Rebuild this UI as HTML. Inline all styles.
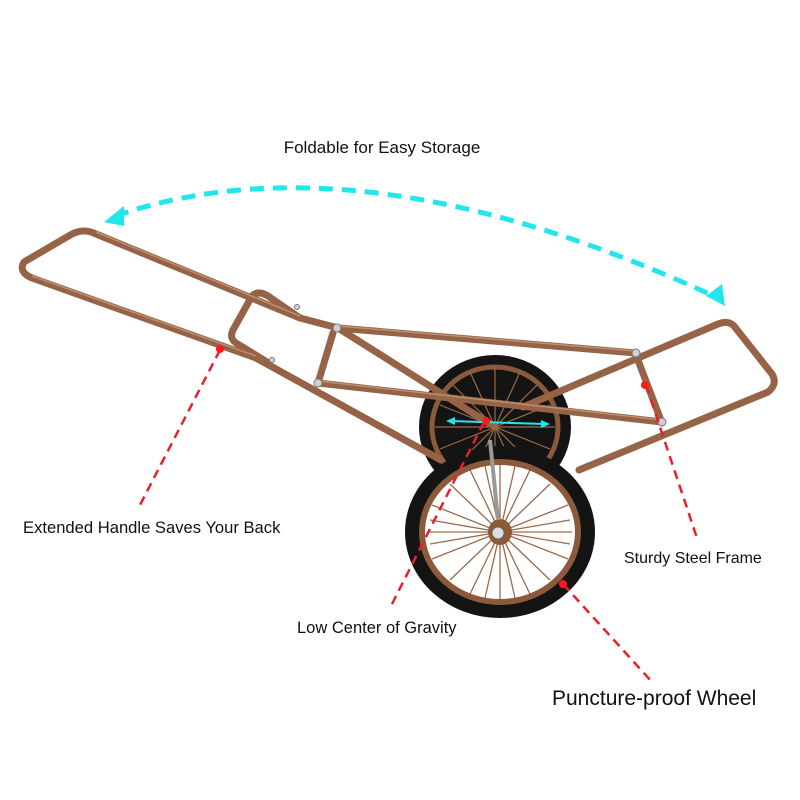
<!DOCTYPE html>
<html><head><meta charset="utf-8"><style>
html,body{margin:0;padding:0;background:#fff;}
svg{display:block}
text{font-family:"Liberation Sans",sans-serif;fill:#111}
</style></head><body>
<svg width="800" height="800" viewBox="0 0 800 800" xmlns="http://www.w3.org/2000/svg">
<rect width="800" height="800" fill="#fff"/>
<text x="382" y="153" font-size="17" text-anchor="middle">Foldable for Easy Storage</text>
<!-- cyan arc -->
<path d="M115,216 Q360,132 718,298" fill="none" stroke="#22e6ee" stroke-width="5" stroke-dasharray="14,9"/>
<polygon points="104,222 124,206 124,226" fill="#22e6ee"/>
<polygon points="725,306 706,296 722,284" fill="#22e6ee"/>

<!-- back wheel -->
<ellipse cx="495" cy="427" rx="76" ry="72" fill="#141414"/>
<ellipse cx="495" cy="427" rx="63" ry="60" fill="none" stroke="#8a5a3a" stroke-width="5"/>
<g stroke="#9a6a4a" stroke-width="1.2">
<line x1="495" y1="367" x2="495" y2="487"/><line x1="435" y1="427" x2="555" y2="427"/>
<line x1="453" y1="385" x2="537" y2="469"/><line x1="537" y1="385" x2="453" y2="469"/>
<line x1="470" y1="372" x2="520" y2="482"/><line x1="520" y1="372" x2="470" y2="482"/>
<line x1="440" y1="405" x2="550" y2="449"/><line x1="550" y1="405" x2="440" y2="449"/>
</g>

<!-- frame tubes -->
<g fill="none" stroke="#966346" stroke-width="7" stroke-linecap="round" stroke-linejoin="round">
<path d="M441,460 L256,358 L32,278 Q18,272 24,262 L72,234 Q84,228 96,234 L300,318 L338,328 L490,424"/>
<path d="M267,362 L236,343 Q229,338 233,330 L252,296 Q258,290 268,296 L300,318"/>
<path d="M338,328 L636,353"/>
<path d="M333,333 L318,383"/>
<path d="M318,383 L662,422"/>
<path d="M636,355 L662,423"/>
<path d="M523,407 L718,324 Q728,320 734,326 L772,374 Q778,384 768,392 L579,470"/>
</g>
<g fill="none" stroke="#c49a7a" stroke-width="1.5" opacity="0.8">
<path d="M256,356 L32,276"/><path d="M96,232 L300,316"/><path d="M338,326 L636,351"/><path d="M318,381 L662,420"/>
</g>
<g fill="#d0d0d0" stroke="#777" stroke-width="1">
<circle cx="337" cy="328" r="4"/><circle cx="318" cy="383" r="4"/><circle cx="636" cy="353" r="4"/><circle cx="662" cy="422" r="4"/>
<circle cx="297" cy="307" r="2.5"/><circle cx="272" cy="360" r="2.5"/>
</g>

<!-- front wheel -->
<ellipse cx="500" cy="532" rx="95" ry="86" fill="#141414"/>
<ellipse cx="500" cy="532" rx="80" ry="72" fill="#fff"/>
<ellipse cx="500" cy="532" rx="78" ry="70" fill="none" stroke="#8a5a3a" stroke-width="6"/>
<g stroke="#9a6a4a" stroke-width="1.3">
<line x1="500" y1="465" x2="500" y2="599"/><line x1="428" y1="532" x2="572" y2="532"/>
<line x1="450" y1="484" x2="550" y2="580"/><line x1="550" y1="484" x2="450" y2="580"/>
<line x1="470" y1="470" x2="530" y2="594"/><line x1="530" y1="470" x2="470" y2="594"/>
<line x1="432" y1="505" x2="568" y2="559"/><line x1="568" y1="505" x2="432" y2="559"/>
<line x1="485" y1="466" x2="515" y2="598"/><line x1="515" y1="466" x2="485" y2="598"/>
<line x1="430" y1="520" x2="570" y2="544"/><line x1="570" y1="520" x2="430" y2="544"/>
</g>
<ellipse cx="500" cy="532" rx="12" ry="13" fill="#8d5a38"/>
<circle cx="498" cy="533" r="6" fill="#ddd" stroke="#666"/>
<line x1="490" y1="440" x2="498" y2="520" stroke="#999" stroke-width="4"/>

<!-- cyan small arrow -->
<line x1="450" y1="421" x2="545" y2="424" stroke="#22e6ee" stroke-width="2"/>
<polygon points="446,421 455,417 455,425" fill="#22e6ee"/>
<polygon points="550,424 541,420 541,428" fill="#22e6ee"/>

<!-- red dashed lines -->
<g stroke="#e8202a" stroke-width="2.5" stroke-dasharray="9,6" fill="none">
<line x1="220" y1="350" x2="140" y2="505"/>
<line x1="484" y1="422" x2="390" y2="608"/>
<line x1="646" y1="385" x2="697" y2="538"/>
<line x1="563" y1="584" x2="652" y2="682"/>
</g>
<g fill="#ff1a1a">
<circle cx="220" cy="349" r="4"/><circle cx="486" cy="421" r="4"/><circle cx="645" cy="385" r="4"/><circle cx="563" cy="584" r="4"/>
</g>

<text x="23" y="533" font-size="16.6">Extended Handle Saves Your Back</text>
<text x="624" y="563" font-size="16">Sturdy Steel Frame</text>
<text x="297" y="633" font-size="16.5">Low Center of Gravity</text>
<text x="552" y="705" font-size="21">Puncture-proof Wheel</text>
</svg>
</body></html>
